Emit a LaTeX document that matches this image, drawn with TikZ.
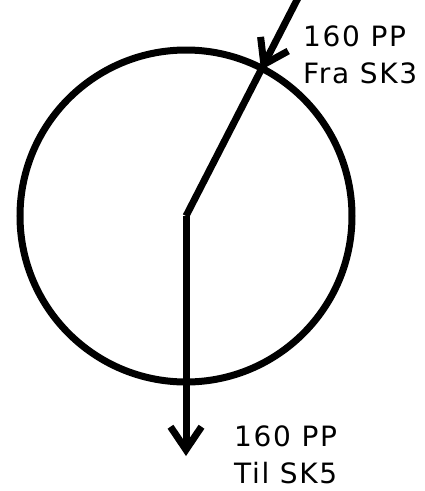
\documentclass[tikz,border=0pt]{standalone}
\usepackage{fontspec}
\newfontfamily\lblfont{DejaVu Sans}[LetterSpace=6]
\usetikzlibrary{arrows.meta,positioning}

\begin{document}
\begin{tikzpicture}[
  x=1pt, y=-1pt,
  pipe/.style={line width=7pt},
  flow/.style={pipe, -{Straight Barb[length=23pt, width=31pt]}},
  lbl/.style={font=\lblfont\fontsize{28}{37}\selectfont, anchor=base west,
              inner sep=0pt, align=left}
]
  \useasboundingbox (0,0) rectangle (424,491);

  \coordinate (C)   at (186,216);
  \coordinate (src) at (298,-2);
  \coordinate (hit) at (261,70);
  \coordinate (dst) at (186,456);

  \draw[pipe] (C) circle[radius=166];

  \draw[flow] (src) -- (hit);
  \draw[pipe] (hit) -- (C);
  \draw[flow] (C) -- (dst);

  % base anchor sits on the last line
  \node[lbl] (inn) at (303,83)  {160 PP\\Fra SK3};
  \node[lbl] (ut)  at (234,483) {160 PP\\Til SK5};
\end{tikzpicture}
\end{document}
